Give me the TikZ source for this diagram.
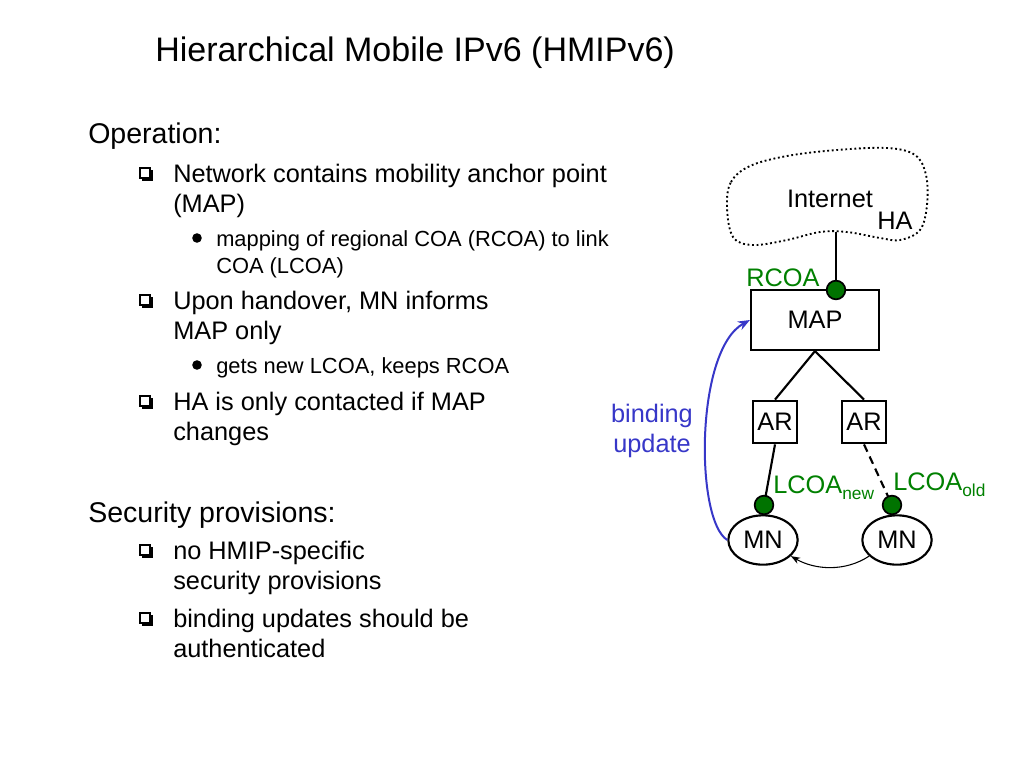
\documentclass[tikz,border=0pt]{standalone}
\usepackage{fontspec}
\setmainfont{Liberation Sans}
\usetikzlibrary{shapes.geometric,arrows.meta}
\definecolor{dgreen}{RGB}{0,128,0}
\definecolor{dotgreen}{RGB}{0,115,0}
\definecolor{bblue}{RGB}{55,55,200}
\tikzset{
  titletxt/.style={anchor=base west, inner sep=0pt, font=\fontsize{25.5}{30}\selectfont},
  lvlzero/.style={anchor=base west, inner sep=0pt, font=\fontsize{21.4}{26}\selectfont},
  lvlone/.style={anchor=base west, inner sep=0pt, font=\fontsize{19}{23}\selectfont},
  lvltwo/.style={anchor=base west, inner sep=0pt, font=\fontsize{16.4}{20}\selectfont},
  lbl/.style={anchor=base, inner sep=0pt, font=\fontsize{19}{23}\selectfont},
  glbl/.style={anchor=base west, inner sep=0pt, text=dgreen, font=\fontsize{19}{23}\selectfont},
  boxnode/.style={draw, line width=1.6pt, inner sep=0pt, font=\fontsize{19}{23}\selectfont},
  mnnode/.style={ellipse, draw, line width=1.6pt, inner sep=0pt, minimum width=52pt, minimum height=37pt, font=\fontsize{19}{23}\selectfont},
  gdot/.style={circle, draw, fill=dotgreen, line width=1.3pt, minimum size=14pt, inner sep=0pt},
  wire/.style={line width=1.6pt},
  sqb/.pic={
    \draw[line width=0.8pt] (-5,-5) rectangle (5,5);
    \fill (-3,5) rectangle (7,7.5);
    \fill (5,-3) rectangle (7.5,7.5);
  },
  rdot/.pic={\fill (0,0) circle (4.8);}
}
\newcommand{\subtxt}[1]{\raisebox{-5pt}{\fontsize{13}{15}\selectfont #1}}
\begin{document}
\begin{tikzpicture}[x=0.75pt,y=-0.75pt]
\useasboundingbox (0,0) rectangle (1024,768);

% Title
\node[titletxt] (title) at (155,61) {Hierarchical Mobile IPv6 (HMIPv6)};

% Operation
\node[lvlzero] (op) at (88,143) {Operation:};
\pic at (145,173) {sqb};
\node[lvlone] (opa1) at (173,182) {Network contains mobility anchor point};
\node[lvlone] (opa2) at (173,212) {(MAP)};
\pic at (197,238) {rdot};
\node[lvltwo] (opa3) at (216,246) {mapping of regional COA (RCOA) to link};
\node[lvltwo] (opa4) at (216,273) {COA (LCOA)};
\pic at (145,300) {sqb};
\node[lvlone] (opb1) at (173,309) {Upon handover, MN informs};
\node[lvlone] (opb2) at (173,339) {MAP only};
\pic at (197,365) {rdot};
\node[lvltwo] (opb3) at (216,373) {gets new LCOA, keeps RCOA};
\pic at (145,401) {sqb};
\node[lvlone] (opc1) at (173,410) {HA is only contacted if MAP};
\node[lvlone] (opc2) at (173,440) {changes};

% Security
\node[lvlzero] (sec) at (88,522) {Security provisions:};
\pic at (145,550) {sqb};
\node[lvlone] (seca1) at (173,559) {no HMIP-specific};
\node[lvlone] (seca2) at (173,589) {security provisions};
\pic at (145,618) {sqb};
\node[lvlone] (secb1) at (173,627) {binding updates should be};
\node[lvlone] (secb2) at (173,657) {authenticated};

% Diagram: cloud
\draw[line width=1.4pt, dotted] plot[smooth cycle, tension=0.6] coordinates {
  (727,207) (731,182) (750,166) (787,156) (837,150) (887,148) (915,155)
  (926,175) (927,205) (920,230) (900,240) (880,238) (847,232) (820,232)
  (787,240) (753,245) (733,237)};
\node[lbl] (inet) at (830,207) {Internet};
\node[lbl] (ha) at (895,229) {HA};
\coordinate (cb) at (836,232);

% Nodes
\node[boxnode, minimum width=96pt, minimum height=45pt] (map) at (815,320) {MAP};
\node[boxnode, minimum width=33pt, minimum height=32pt] (ar1) at (775,422) {AR};
\node[boxnode, minimum width=33pt, minimum height=32pt] (ar2) at (864,422) {AR};
\node[mnnode] (mn1) at (763,540) {MN};
\node[mnnode] (mn2) at (897,540) {MN};

% Connectors
\draw[wire] (cb) -- (836,283);
\draw[wire] (map.south) -- (ar1.north);
\draw[wire] (map.south) -- (ar2.north);
\draw[wire] (ar1.south) -- (764,505);
\draw[wire, dash pattern=on 6pt off 4pt] (ar2.south) -- (892,505);

\node[gdot] (rcoadot) at (836,290) {};
\node[gdot] (newdot) at (764,505) {};
\node[gdot] (olddot) at (892,505) {};

\node[glbl, anchor=base] (rcoa) at (783,286) {RCOA};
\node[glbl] (lnew) at (773,493) {LCOA\subtxt{new}};
\node[glbl] (lold) at (893,490) {LCOA\subtxt{old}};

% binding update
\draw[bblue, line width=1.5pt, -{Stealth[length=9pt,width=7pt]}] (mn1.west) .. controls (695,520) and (695,350) .. (map.west);
\node[lbl, text=bblue] (bind1) at (652,422) {binding};
\node[lbl, text=bblue] (bind2) at (652,452) {update};

% movement arrow
\draw[line width=0.8pt, -{Stealth[length=7pt,width=5pt]}] (mn2.210) .. controls (845,572) and (815,570) .. (mn1.-30);
\end{tikzpicture}
\end{document}
